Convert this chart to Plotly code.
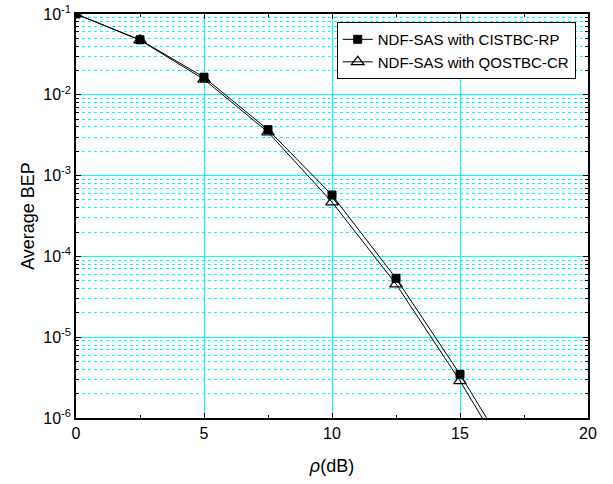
import plotly.graph_objects as go

snr_db = [0, 2.5, 5, 7.5, 10, 12.5, 15, 17.5]
bep_cistbc_rp = [0.1, 0.048, 0.0165, 3.7e-3, 5.75e-4, 5.36e-5, 3.47e-6, 1.74e-7]
bep_qostbc_cr = [0.1, 0.0475, 0.0155, 3.45e-3, 4.7e-4, 4.55e-5, 2.88e-6, 1.38e-7]

names = ["NDF-SAS with CISTBC-RP", "NDF-SAS with QOSTBC-CR"]

y_major = [1e-6, 1e-5, 1e-4, 1e-3, 1e-2, 1e-1]
y_major_text = ["10<sup>-6</sup>", "10<sup>-5</sup>", "10<sup>-4</sup>",
                "10<sup>-3</sup>", "10<sup>-2</sup>", "10<sup>-1</sup>"]
y_minor = [m * d for d in [1e-6, 1e-5, 1e-4, 1e-3, 1e-2] for m in range(2, 10)]

FONT = "Liberation Sans, Arial, sans-serif"

fig = go.Figure()
fig.add_trace(go.Scatter(
    x=snr_db, y=bep_cistbc_rp, name=names[0], mode="lines+markers",
    line=dict(color="black", width=1),
    marker=dict(symbol="square", size=8, color="black", line=dict(color="black", width=1)),
))
fig.add_trace(go.Scatter(
    x=snr_db, y=bep_qostbc_cr, name=names[1], mode="lines+markers",
    line=dict(color="black", width=1),
    marker=dict(symbol="triangle-up-open", size=11, color="black", line=dict(color="black", width=1.2)),
))

fig.update_layout(
    width=613, height=484,
    margin=dict(l=76, r=25, t=14, b=66, autoexpand=False),
    paper_bgcolor="white", plot_bgcolor="white",
    font=dict(family=FONT, size=16, color="black"),
    showlegend=True,
    legend=dict(
        x=0.976, y=0.98, xanchor="right", yanchor="top",
        bgcolor="white", bordercolor="black", borderwidth=1,
        font=dict(family=FONT, size=15, color="black"),
        tracegroupgap=0, itemwidth=30,
    ),
)

fig.update_xaxes(
    range=[0, 20], dtick=5, tick0=0, automargin=False,
    showline=True, linecolor="black", linewidth=1.5, mirror="ticks",
    ticks="inside", ticklen=5, tickcolor="black",
    showgrid=True, gridcolor="#00FFFF", gridwidth=1,
    zeroline=False,
    minor=dict(dtick=2.5, tick0=0, ticks="inside", ticklen=3, tickcolor="black", showgrid=False),
    title=dict(text="<i>ρ</i>(dB)", font=dict(family=FONT, size=18), standoff=18),
    tickfont=dict(family=FONT, size=16),
    ticklabeloverflow="allow",
)
fig.update_yaxes(
    type="log", range=[-6, -0.9999], automargin=False,
    tickmode="array", tickvals=y_major, ticktext=y_major_text,
    showline=True, linecolor="black", linewidth=1.5, mirror="ticks",
    ticks="inside", ticklen=5, tickcolor="black",
    showgrid=True, gridcolor="#00FFFF", gridwidth=1,
    zeroline=False,
    minor=dict(tickmode="array", tickvals=y_minor, ticks="inside", ticklen=3, tickcolor="black",
               showgrid=True, gridcolor="#00FFFF", griddash="dot", gridwidth=1),
    title=dict(text="Average BEP", font=dict(family=FONT, size=18), standoff=4),
    tickfont=dict(family=FONT, size=16),
    ticklabeloverflow="allow",
)

fig.write_html("out.html", config={"displayModeBar": False},
               post_script="document.body.style.margin='0';")
